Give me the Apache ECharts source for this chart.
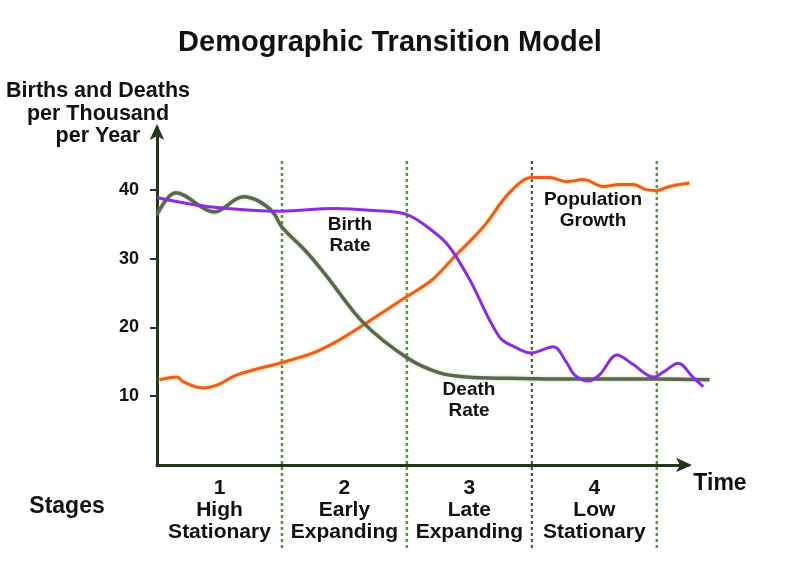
<!DOCTYPE html>
<html><head><meta charset="utf-8">
<script src="https://cdn.jsdelivr.net/npm/echarts@6/dist/echarts.min.js"></script>
<style>html,body{margin:0;padding:0;background:#fff}#c{width:800px;height:583px}</style>
</head><body><div id="c"></div>
<script>
// x in stage units (0..4.5), y in births/deaths per thousand
const birthRate = [[0,38.9],[0.4,37.6],[1.0,36.9],[1.41,37.3],[1.73,37.0],[2.0,36.4],[2.22,33.8],[2.34,31.7],[2.5,27.0],[2.74,18.6],[2.88,17.0],[2.99,16.3],[3.17,17.2],[3.28,14.8],[3.34,13.1],[3.45,12.2],[3.54,13.1],[3.68,16.0],[3.81,14.6],[3.97,12.8],[4.05,13.5],[4.17,14.8],[4.29,12.7],[4.37,11.4]];
const deathRate = [[0,36.4],[0.15,39.6],[0.46,36.8],[0.69,39.0],[0.82,38.3],[0.93,36.7],[1.0,34.6],[1.2,30.9],[1.36,27.4],[1.65,20.7],[2.0,15.6],[2.26,13.4],[2.48,12.8],[2.8,12.6],[3.2,12.5],[4.0,12.5],[4.42,12.4]];
const population = [[0.02,12.4],[0.16,12.8],[0.21,12.1],[0.37,11.2],[0.48,11.6],[0.64,13.1],[0.98,14.8],[1.25,16.3],[1.46,18.2],[1.68,20.7],[2.0,24.5],[2.2,26.9],[2.37,30.1],[2.61,34.6],[2.82,39.6],[3.0,41.8],[3.14,41.8],[3.28,41.2],[3.41,41.5],[3.57,40.5],[3.7,40.8],[3.81,40.8],[3.92,40.0],[4.0,39.9],[4.1,40.5],[4.26,41.0]];
const stageBoundaries = [1,2,3,4];
const stageLabels = {0.5:'1\nHigh\nStationary',1.5:'2\nEarly\nExpanding',2.5:'3\nLate\nExpanding',3.5:'4\nLow\nStationary'};
const yTicks = [10,20,30,40];

const FONT = 'Liberation Sans, Arial, sans-serif';
const AX = '#24361a';

const chart = echarts.init(document.getElementById('c'), null, {renderer:'canvas'});

const dividerSeries = stageBoundaries.map(b => ({
  type:'line', xAxisIndex:1, yAxisIndex:1, data:[[b,0],[b,1]], symbol:'none', silent:true, z:1,
  lineStyle:{color: b===3 ? '#3b4a34' : '#4f9c2e', width: b===3 ? 2 : 2.5, type:[3,3]}
}));

const dataLine = (name, data, color, width, shadow, z) => ({
  name, type:'line', xAxisIndex:2, yAxisIndex:2, data, smooth:0.35, symbol:'none', z,
  lineStyle:{color, width, shadowColor:shadow, shadowBlur: shadow ? 3 : 0}
});

chart.setOption({
  animation:false,
  title:{text:'Demographic Transition Model', left:385, top:23, textAlign:'center',
    textStyle:{fontFamily:FONT, fontWeight:'bold', fontSize:29, color:'#111'}},
  grid:[
    {left:157, right:112, top:128, bottom:118},
    {left:157, right:112, top:160, bottom:35},
    {left:157, right:80.5, top:128, bottom:118}
  ],
  xAxis:[
    {type:'value', gridIndex:0, min:0, max:4.25, interval:0.25,
     axisLine:{show:true, lineStyle:{color:AX, width:3}, symbol:['none','arrow'], symbolSize:[11,16], symbolOffset:[0,4]},
     axisTick:{show:false}, splitLine:{show:false},
     axisLabel:{margin:12, formatter:v => stageLabels[v] || '', fontFamily:FONT, fontWeight:'bold', fontSize:21, lineHeight:22, color:'#111', interval:0, showMinLabel:true, showMaxLabel:true}},
    {type:'value', gridIndex:1, min:0, max:4.25, show:false},
    {type:'value', gridIndex:2, min:0, max:4.5, show:false}
  ],
  yAxis:[
    {type:'value', gridIndex:0, min:0, max:49, interval:10,
     axisLine:{show:true, lineStyle:{color:AX, width:3}, symbol:['none','arrow'], symbolSize:[11,16], symbolOffset:[0,4]},
     axisTick:{show:true, length:7, customValues:yTicks, lineStyle:{color:AX, width:2}},
     splitLine:{show:false},
     axisLabel:{margin:18, customValues:yTicks, formatter:v => yTicks.includes(v) ? String(v) : '', fontFamily:FONT, fontWeight:'bold', fontSize:18, color:'#111'}},
    {type:'value', gridIndex:1, min:0, max:1, show:false},
    {type:'value', gridIndex:2, min:0, max:49, show:false}
  ],
  graphic:[
    {type:'text', x:98, y:80, style:{text:'Births and Deaths\nper Thousand\nper Year', textAlign:'center', fontFamily:FONT, fontWeight:'bold', fontSize:21.5, lineHeight:22.5, fill:'#111'}},
    {type:'text', x:67, y:495, style:{text:'Stages', textAlign:'center', fontFamily:FONT, fontWeight:'bold', fontSize:23, fill:'#111'}},
    {type:'text', x:720, y:472, style:{text:'Time', textAlign:'center', fontFamily:FONT, fontWeight:'bold', fontSize:23, fill:'#111'}},
    {type:'text', x:350, y:214, style:{text:'Birth\nRate', textAlign:'center', fontFamily:FONT, fontWeight:'bold', fontSize:19, lineHeight:21, fill:'#111'}},
    {type:'text', x:469, y:379, style:{text:'Death\nRate', textAlign:'center', fontFamily:FONT, fontWeight:'bold', fontSize:19, lineHeight:21, fill:'#111'}},
    {type:'text', x:593, y:189, style:{text:'Population\nGrowth', textAlign:'center', fontFamily:FONT, fontWeight:'bold', fontSize:19, lineHeight:21, fill:'#111'}}
  ],
  series:[
    ...dividerSeries,
    dataLine('Population Growth', population, '#ee5a2a', 3, 'rgba(255,215,60,0.9)', 3),
    dataLine('Death Rate', deathRate, '#5e6557', 3.5, 'rgba(120,210,60,0.6)', 4),
    dataLine('Birth Rate', birthRate, '#8a2be6', 3, null, 5)
  ]
});
</script></body></html>
